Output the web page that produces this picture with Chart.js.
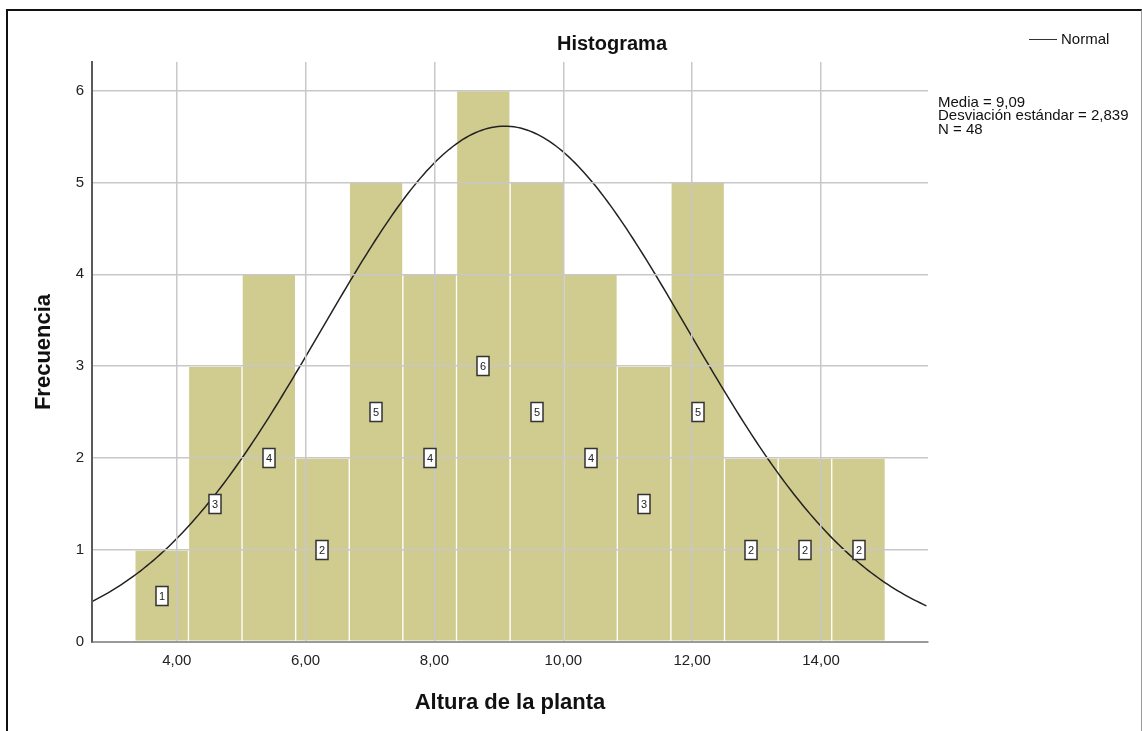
<!DOCTYPE html>
<html lang="es">
<head>
<meta charset="utf-8">
<title>Histograma</title>
<script src="https://cdn.jsdelivr.net/npm/chart.js@4.4.1/dist/chart.umd.min.js"></script>
<style>
  html, body { margin: 0; padding: 0; background: #fff; }
  body { width: 1142px; height: 731px; position: relative; overflow: hidden; font-family: "Liberation Sans", Arial, sans-serif; }
  #marco { position: absolute; left: 6px; top: 9px; width: 1133px; height: 730px; border-top: 2px solid #111; border-left: 2px solid #111; border-right: 1px solid #9a9a9a; }
  #grafico { position: absolute; left: 0; top: 0; }
  #titulo { position: absolute; left: 512px; top: 31px; width: 200px; line-height: 24px; text-align: center; font-weight: bold; font-size: 20px; color: #111; }
  #leyenda { position: absolute; left: 1029px; top: 30px; font-size: 15px; line-height: 18px; color: #111; white-space: nowrap; }
  #leyenda span.linea { display: inline-block; width: 28px; height: 0; border-top: 1.5px solid #333; vertical-align: middle; margin-right: 4px; position: relative; top: -1px; }
  #estadisticos { position: absolute; left: 938px; top: 95px; font-size: 15px; line-height: 13.3px; color: #111; white-space: nowrap; }
</style>
</head>
<body>
<div id="marco"></div>
<canvas id="grafico" width="1142" height="731"></canvas>
<div id="titulo">Histograma</div>
<div id="leyenda"><span class="linea"></span>Normal</div>
<div id="estadisticos">Media = 9,09<br>Desviación estándar = 2,839<br>N = 48</div>

<script>
// centros de los intervalos y frecuencias de la altura de la planta
const centros = [3.766, 4.598, 5.430, 6.262, 7.094, 7.926, 8.758, 9.590, 10.422, 11.254, 12.086, 12.918, 13.750, 14.582];
const frecuencias = [1, 3, 4, 2, 5, 4, 6, 5, 4, 3, 5, 2, 2, 2];
const anchoIntervalo = 0.832;

// estadisticos de la curva normal
const media = 9.09;
const desviacion = 2.839;
const n = 48;

const ticksX = [4, 6, 8, 10, 12, 14];
const ticksY = [0, 1, 2, 3, 4, 5, 6];
const rangoX = [2.685, 15.66];
const rangoY = [0, 6.31];

const barras = centros.map((c, i) => ({ x: c, y: frecuencias[i] }));

// curva normal escalada a frecuencias (N * ancho * densidad)
const curva = [];
for (let x = rangoX[0]; x <= rangoX[1] + 1e-9; x += 0.05) {
    const z = (x - media) / desviacion;
    const dens = Math.exp(-0.5 * z * z) / (desviacion * Math.sqrt(2 * Math.PI));
    curva.push({ x: x, y: n * anchoIntervalo * dens });
}

const coma = v => v.toFixed(2).replace('.', ',');

// cajitas con la frecuencia en medio de cada barra
const etiquetasBarras = {
    id: 'etiquetasBarras',
    afterDraw(chart) {
        const ctx = chart.ctx;
        const meta = chart.getDatasetMeta(1);
        const y = chart.scales.y;
        ctx.save();
        ctx.font = '11px "Liberation Sans", Arial, sans-serif';
        ctx.textAlign = 'center';
        ctx.textBaseline = 'middle';
        meta.data.forEach((bar, i) => {
            const cx = Math.round(bar.x);
            const cy = Math.round(y.getPixelForValue(frecuencias[i] / 2));
            ctx.fillStyle = '#fff';
            ctx.fillRect(cx - 6, cy - 9.5, 12, 19);
            ctx.strokeStyle = '#333';
            ctx.lineWidth = 1.5;
            ctx.strokeRect(cx - 6, cy - 9.5, 12, 19);
            ctx.fillStyle = '#222';
            ctx.fillText(String(frecuencias[i]), cx, cy + 0.5);
        });
        ctx.restore();
    }
};

const ctx = document.getElementById('grafico').getContext('2d');
new Chart(ctx, {
    type: 'bar',
    data: {
        datasets: [
            {
                type: 'line',
                label: 'Normal',
                data: curva,
                borderColor: '#222',
                borderWidth: 1.5,
                pointRadius: 0,
                tension: 0,
                fill: false,
                order: 0
            },
            {
                type: 'bar',
                label: 'Frecuencia',
                data: barras,
                backgroundColor: '#D0CB8E',
                borderColor: '#ffffff',
                borderWidth: 1,
                borderSkipped: false,
                barPercentage: 1,
                categoryPercentage: 1,
                order: 1
            }
        ]
    },
    options: {
        responsive: false,
        animation: false,
        layout: { padding: { top: 62, right: 214, left: 0, bottom: 0 } },
        plugins: {
            legend: { display: false },
            tooltip: { enabled: false },
            title: { display: false }
        },
        scales: {
            x: {
                type: 'linear',
                offset: false,
                min: rangoX[0],
                max: rangoX[1],
                afterBuildTicks: s => { s.ticks = ticksX.map(v => ({ value: v })); },
                afterFit: s => { s.height = 89; },
                ticks: {
                    callback: v => coma(v),
                    color: '#222',
                    padding: 10,
                    maxRotation: 0,
                    font: { family: '"Liberation Sans", Arial, sans-serif', size: 15 }
                },
                grid: { color: '#c8c8c8', lineWidth: 1.5, drawTicks: false, offset: false, z: 1 },
                border: { color: '#9a9a9a', width: 2, z: 2 },
                title: {
                    display: true,
                    text: 'Altura de la planta',
                    color: '#111',
                    padding: { top: 0, bottom: 15 },
                    font: { family: '"Liberation Sans", Arial, sans-serif', size: 22, weight: 'bold' }
                }
            },
            y: {
                min: rangoY[0],
                max: rangoY[1],
                afterBuildTicks: s => { s.ticks = ticksY.map(v => ({ value: v })); },
                afterFit: s => { s.width = 92; },
                ticks: {
                    color: '#222',
                    padding: 8,
                    font: { family: '"Liberation Sans", Arial, sans-serif', size: 15 }
                },
                grid: { color: '#c8c8c8', lineWidth: 1.5, drawTicks: false, z: 1 },
                border: { color: '#5a5a5a', width: 2, z: 2 },
                title: {
                    display: true,
                    text: 'Frecuencia',
                    color: '#111',
                    padding: { top: 31, bottom: 0 },
                    font: { family: '"Liberation Sans", Arial, sans-serif', size: 22, weight: 'bold' }
                }
            }
        }
    },
    plugins: [etiquetasBarras]
});
</script>
</body>
</html>
